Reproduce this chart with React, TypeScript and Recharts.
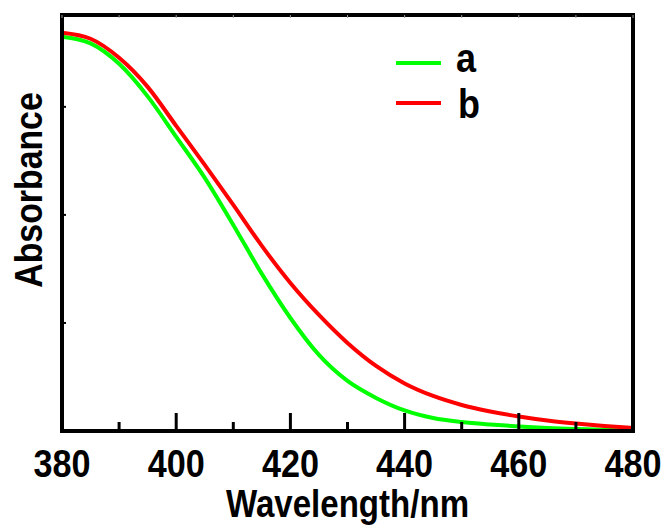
import React from "react";
import {
	LineChart,
	Line,
	XAxis,
	YAxis,
	Legend,
	Label,
} from "recharts";

// wavelength (nm) and absorbance
const wavelengths = [
	380, 385, 390, 395, 400, 405, 410, 415, 420, 425, 430, 435, 440, 445, 450,
	455, 460, 465, 470, 475, 480,
];
const absorbA = [
	3.648, 3.587, 3.398, 3.097, 2.722, 2.343, 1.907, 1.454, 1.046, 0.704, 0.463,
	0.306, 0.19, 0.12, 0.083, 0.06, 0.042, 0.028, 0.019, 0.011, 0.006,
];
const absorbB = [
	3.685, 3.63, 3.454, 3.185, 2.824, 2.463, 2.093, 1.713, 1.37, 1.074, 0.815,
	0.602, 0.44, 0.324, 0.241, 0.181, 0.134, 0.097, 0.069, 0.046, 0.028,
];
const xMajorTicks = [380, 400, 420, 440, 460, 480];
const xAllTicks = [380, 390, 400, 410, 420, 430, 440, 450, 460, 470, 480];
const yTicks = [0, 1, 2, 3];

const data = wavelengths.map((w, i) => ({ w, a: absorbA[i], b: absorbB[i] }));

const FONT = "'Liberation Sans', Arial, Helvetica, sans-serif";
const frame = { stroke: "#000", strokeWidth: 4, strokeLinecap: "square" as const };

const BottomTick = (props: any) => {
	const { x, y, payload } = props;
	const major = xMajorTicks.includes(payload.value);
	return (
		<g>
			<line x1={x} x2={x} y1={y} y2={y - (major ? 18 : 9)} stroke="#000" strokeWidth={3} />
			{major && (
				<g transform={`translate(${x},${y + 46})`}>
					<text
						transform="scale(0.9,1)"
						textAnchor="middle"
						fontSize={38}
						fontWeight="bold"
						fontFamily={FONT}
						fill="#000"
					>
						{payload.value}
					</text>
				</g>
			)}
		</g>
	);
};

const TopTick = (props: any) => {
	const { x, y } = props;
	return <line x1={x} x2={x} y1={y} y2={y + 3} stroke="#999" strokeWidth={1} />;
};

const LeftTick = (props: any) => {
	const { x, y } = props;
	return <line x1={x} x2={x + 4} y1={y} y2={y} stroke="#000" strokeWidth={2} />;
};

const RightTick = (props: any) => {
	const { x, y } = props;
	return <line x1={x} x2={x - 4} y1={y} y2={y} stroke="#000" strokeWidth={2} />;
};

const XTitle = (props: any) => {
	const { viewBox } = props;
	const cx = viewBox.x + viewBox.width / 2;
	return (
		<g transform={`translate(${cx},${viewBox.y + 86})`}>
			<text transform="scale(0.87,1)" textAnchor="middle" fontSize={38} fontWeight="bold" fontFamily={FONT} fill="#000">
				Wavelength/nm
			</text>
		</g>
	);
};

const YTitle = (props: any) => {
	const { viewBox } = props;
	const cy = viewBox.y + viewBox.height / 2 - 33;
	return (
		<g transform={`translate(${viewBox.x - 19},${cy}) rotate(-90)`}>
			<text transform="scale(0.89,1)" textAnchor="middle" fontSize={38} fontWeight="bold" fontFamily={FONT} fill="#000">
				Absorbance
			</text>
		</g>
	);
};

const LegendBox = (props: any) => {
	const { payload } = props;
	return (
		<svg width={110} height={90}>
			{(payload || []).map((entry: any, i: number) => {
				const ly = 27 + i * 40;
				return (
					<g key={entry.value}>
						<line x1={6} x2={51} y1={ly} y2={ly} stroke={entry.color} strokeWidth={4} />
						<g transform={`translate(${66 + i * 2},${ly + 9 + i * 6})`}>
							<text transform="scale(0.9,1)" fontSize={40} fontWeight="bold" fontFamily={FONT} fill="#000">
								{entry.value}
							</text>
						</g>
					</g>
				);
			})}
		</svg>
	);
};

export default function App() {
	return (
		<div style={{ position: "absolute", left: 0, top: 0, width: 668, height: 525, background: "#fff" }}>
			<LineChart
				width={668}
				height={525}
				data={data}
				margin={{ top: 14, right: 34, bottom: 0, left: 61 }}
			>
				<XAxis
					xAxisId="bottom"
					dataKey="w"
					type="number"
					domain={[380, 480]}
					ticks={xAllTicks}
					interval={0}
					height={94}
					tickSize={0}
					tickMargin={0}
					tickLine={false}
					axisLine={frame}
					tick={<BottomTick />}
				>
					<Label content={<XTitle />} />
				</XAxis>
				<XAxis
					xAxisId="top"
					orientation="top"
					dataKey="w"
					type="number"
					domain={[380, 480]}
					ticks={xAllTicks}
					interval={0}
					height={1}
					tickSize={0}
					tickMargin={0}
					tickLine={false}
					axisLine={frame}
					tick={<TopTick />}
				/>
				<YAxis
					yAxisId="left"
					type="number"
					domain={[0, 3.85]}
					ticks={yTicks}
					interval={0}
					width={1}
					tickSize={0}
					tickMargin={0}
					tickLine={false}
					axisLine={frame}
					tick={<LeftTick />}
				>
					<Label content={<YTitle />} />
				</YAxis>
				<YAxis
					yAxisId="right"
					orientation="right"
					type="number"
					domain={[0, 3.85]}
					ticks={yTicks}
					interval={0}
					width={1}
					tickSize={0}
					tickMargin={0}
					tickLine={false}
					axisLine={frame}
					tick={<RightTick />}
				/>
				<Legend
					layout="vertical"
					align="center"
					verticalAlign="middle"
					content={<LegendBox />}
					wrapperStyle={{ position: "absolute", left: 390, top: 36, width: 110, height: 90 }}
				/>
				<Line
					xAxisId="bottom"
					yAxisId="left"
					type="monotone"
					dataKey="a"
					name="a"
					stroke="#00ff00"
					strokeWidth={4}
					dot={false}
					isAnimationActive={false}
				/>
				<Line
					xAxisId="bottom"
					yAxisId="left"
					type="monotone"
					dataKey="b"
					name="b"
					stroke="#ff0000"
					strokeWidth={4}
					dot={false}
					isAnimationActive={false}
				/>
			</LineChart>
		</div>
	);
}
